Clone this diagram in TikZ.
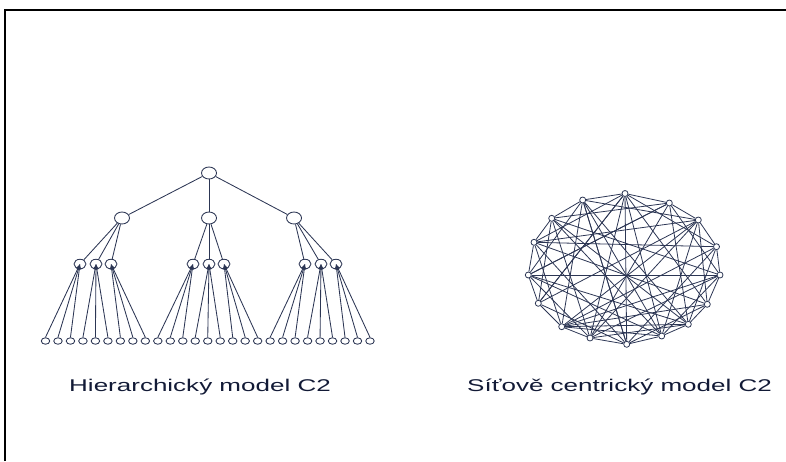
\documentclass[tikz,border=0pt]{standalone}
\usepackage{fontspec}
\setmainfont{Liberation Sans}
\usetikzlibrary{shapes.geometric,arrows}
\definecolor{navyline}{RGB}{44,54,84}
\definecolor{navytext}{RGB}{18,26,54}
\pgfdeclarelayer{background}
\pgfsetlayers{background,main}
\tikzset{
    rootsty/.style={draw=navyline,fill=white,ellipse,inner sep=0pt,minimum width=15pt,minimum height=12pt,line width=0.85pt},
    midsty/.style={draw=navyline,fill=white,ellipse,inner sep=0pt,minimum width=15pt,minimum height=12pt,line width=0.85pt},
    substy/.style={draw=navyline,fill=white,ellipse,inner sep=0pt,minimum width=12pt,minimum height=9.5pt,line width=0.85pt},
    leafsty/.style={draw=navyline,fill=white,ellipse,inner sep=0pt,minimum width=8.5pt,minimum height=6.5pt,line width=0.85pt},
    netsty/.style={draw=navyline,fill=white,circle,inner sep=0pt,minimum size=6pt,line width=0.8pt},
    edgesty/.style={draw=navyline,line width=0.85pt},
    netedgesty/.style={draw=navyline,line width=0.8pt},
    labsty/.style={text=navytext,font=\fontsize{17}{20}\selectfont,inner sep=0pt,anchor=base west},
    framesty/.style={draw=black,line width=2pt},
}
\newcommand{\widetext}[1]{\scalebox{1.53}[1]{#1}}

\begin{document}
\begin{tikzpicture}[x=1pt,y=-1pt,>=latex]
\useasboundingbox (0,0) rectangle (786,461);
\draw[framesty] (5,461) -- (5,10) -- (786,10);

% hierarchicky model
\node[rootsty] (R) at (209,173) {};
\node[midsty] (A1) at (122,218) {};
\node[midsty] (A2) at (209,218) {};
\node[midsty] (A3) at (294,218) {};
\foreach \sub/\xx in {1/80,2/96,3/111,4/193,5/209,6/224,7/305,8/321,9/336}
  \node[substy] (B\sub) at (\xx,264) {};
\foreach \leaf in {1,...,27}
  \node[leafsty] (C\leaf) at ({45.5+12.48*(\leaf-1)},341) {};

\foreach \top in {1,2,3}
  \draw[edgesty] (R) -- (A\top);
\foreach \sub in {1,...,9} {
  \pgfmathtruncatemacro{\top}{int((\sub-1)/3)+1}
  \draw[edgesty] (A\top) -- (B\sub);
}
\foreach \leaf in {1,...,27} {
  \pgfmathtruncatemacro{\sub}{int((\leaf-1)/3)+1}
  \draw[edgesty,->] (C\leaf.north) -- (B\sub.center);
}

% sitove centricky model
\foreach \nn/\xx/\yy in {0/625/193.5,1/669.3/203,2/698.3/220,3/716.5/246.7,
    4/720/275,5/707.3/304.3,6/688.3/324.3,7/661.7/336,8/626.7/344.3,
    9/590/338,10/561.7/326.7,11/538.3/303.3,12/528.3/275,13/534/242.3,
    14/551.7/218.3,15/582.7/200}
  \node[netsty] (N\nn) at (\xx,\yy) {};

\begin{pgfonlayer}{background}
% okruh a tetivy
\foreach \nn in {0,...,15} {
  \pgfmathtruncatemacro{\na}{mod(\nn+1,16)}
  \pgfmathtruncatemacro{\nb}{mod(\nn+3,16)}
  \draw[netedgesty] (N\nn) -- (N\na);
  \draw[netedgesty] (N\nn) -- (N\nb);
}
\foreach \nn/\mm in {0/5,0/7,0/9,0/11,1/6,1/12,2/7,2/9,2/13,3/8,3/10,
    4/12,4/9,5/10,5/13,6/10,6/12,6/14,7/12,7/14,8/13,8/15,9/14,10/15,
    10/4,11/0,11/2,12/1,13/3,14/4,15/6,15/8,0/8,2/10,7/15,1/9}
  \draw[netedgesty] (N\nn) -- (N\mm);
\end{pgfonlayer}

% popisky
\node[labsty] (H) at (69,391) {\widetext{Hierarchický model C2}};
\node[labsty] (S) at (467,391) {\widetext{Síťově centrický model C2}};
\end{tikzpicture}
\end{document}
